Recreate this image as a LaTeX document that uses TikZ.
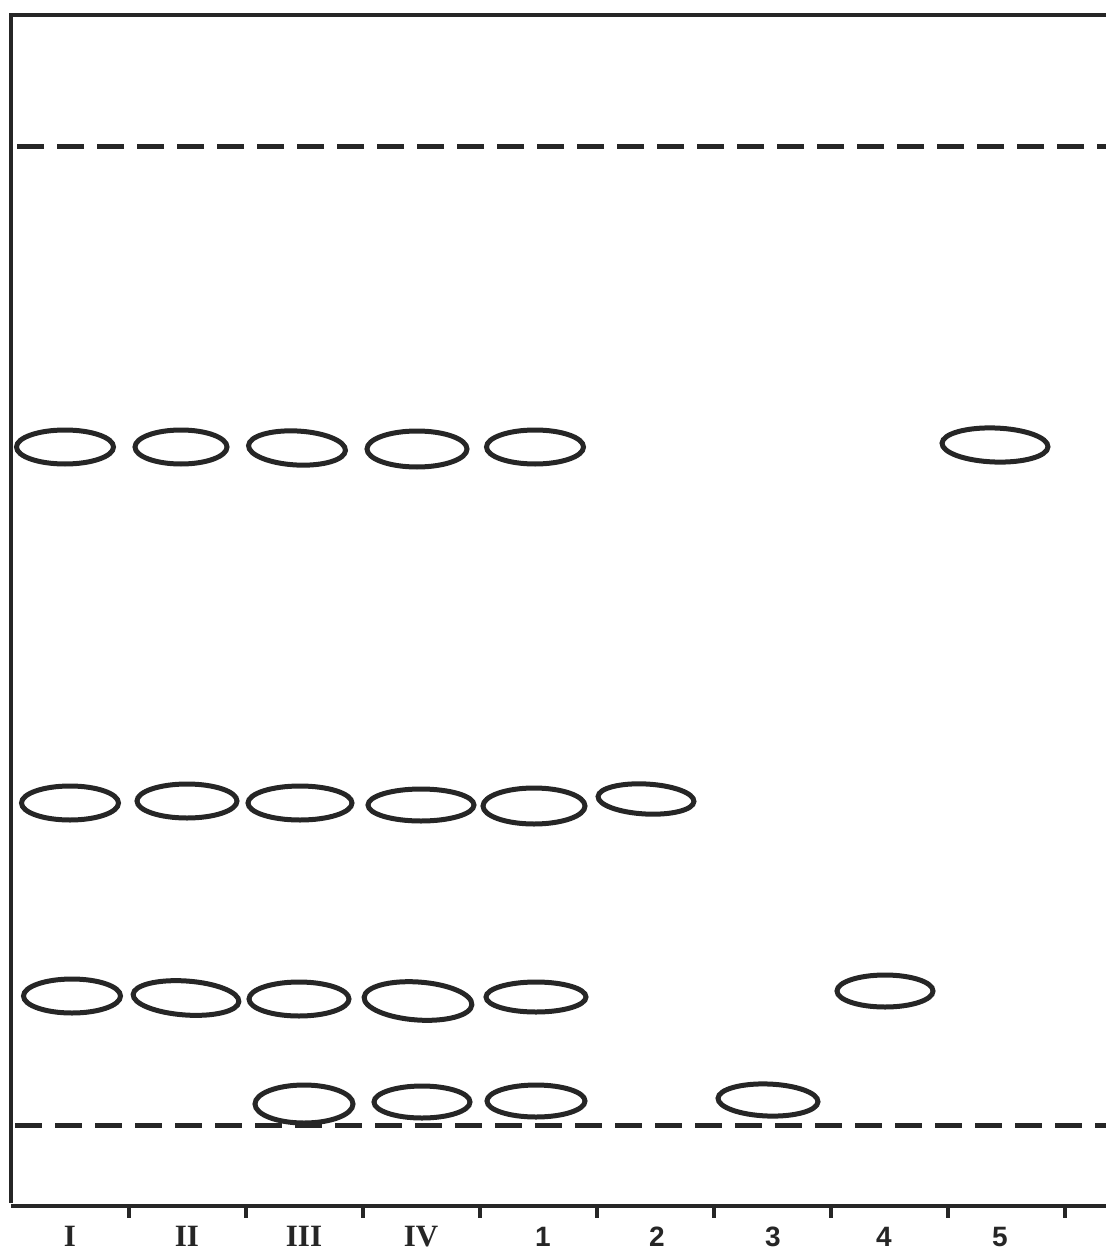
\documentclass[tikz,border=0pt]{standalone}
\usepackage{fontspec}
\setmainfont{Liberation Sans}
\newfontfamily\romfont{Liberation Serif}
\usetikzlibrary{shapes.geometric}
\begin{document}
\begin{tikzpicture}[x=1pt,y=-1pt,
  spot/.style={draw=black!85, ellipse, line width=5pt, minimum width=97pt, minimum height=34pt, inner sep=0pt},
  frameline/.style={draw=black!85, line width=4.5pt},
  tickline/.style={draw=black!85, line width=4pt},
  startline/.style={draw=black!85, line width=5pt, dash pattern=on 27pt off 13pt},
  lanelab/.style={font=\fontsize{28}{30}\selectfont\bfseries, text=black!85, anchor=base},
  romlab/.style={font=\romfont\fontsize{31}{32}\selectfont\bfseries, text=black!85, anchor=base}]
\useasboundingbox (0,0) rectangle (1106,1252);
% frame
\coordinate (tl) at (11,15);
\coordinate (tr) at (1106,15);
\coordinate (bl) at (11,1206);
\coordinate (br) at (1106,1206);
\draw[frameline] (tr) -- (tl) -- ([yshift=3pt]bl) ;
\draw[frameline] (bl) -- (br);
% ticks
\foreach \k in {0,...,8} {
  \coordinate (t\k) at ({129+117*\k},1206);
  \draw[tickline] (t\k) -- ++(0,12);
}
% dashed lines
\coordinate (fa) at (17,147);
\coordinate (fb) at (1106,147);
\coordinate (sa) at (15,1125);
\coordinate (sb) at (1106,1125);
\draw[startline] (fa) -- (fb);
\draw[startline] (sa) -- (sb);
% row 1
\node[spot] (r1a) at (65,447) {};
\node[spot, minimum width=92pt] (r1b) at (181,447) {};
\node[spot, rotate=-3] (r1c) at (297,448) {};
\node[spot, minimum width=100pt, minimum height=36pt] (r1d) at (417,449) {};
\node[spot] (r1e) at (535,447) {};
\node[spot, minimum width=106pt, rotate=-2] (r1f) at (995,445) {};
% row 2
\node[spot] (r2a) at (70,803) {};
\node[spot, minimum width=100pt] (r2b) at (187,801) {};
\node[spot, minimum width=104pt] (r2c) at (300,803) {};
\node[spot, minimum width=106pt, minimum height=32pt] (r2d) at (421,805) {};
\node[spot, minimum width=102pt, minimum height=36pt] (r2e) at (534,806) {};
\node[spot, minimum width=96pt, minimum height=30pt, rotate=-3] (r2f) at (646,799) {};
% row 3
\node[spot] (r3a) at (72,996) {};
\node[spot, minimum width=106pt, rotate=-4] (r3b) at (186,998) {};
\node[spot, minimum width=100pt] (r3c) at (299,999) {};
\node[spot, minimum width=108pt, minimum height=38pt, rotate=-4] (r3d) at (418,1001) {};
\node[spot, minimum width=100pt, minimum height=30pt] (r3e) at (536,997) {};
\node[spot, minimum width=96pt, minimum height=32pt] (r3f) at (885,991) {};
% row 4
\node[spot, minimum width=98pt, minimum height=38pt] (r4a) at (304,1104) {};
\node[spot, minimum width=96pt, minimum height=32pt] (r4b) at (422,1102) {};
\node[spot, minimum width=98pt, minimum height=32pt] (r4c) at (536,1101) {};
\node[spot, minimum width=100pt, minimum height=32pt, rotate=-2] (r4d) at (768,1100) {};
% labels
\node[romlab] (lI) at (70,1246) {I};
\node[romlab] (lII) at (187,1246) {II};
\node[romlab] (lIII) at (304,1246) {III};
\node[romlab] (lIV) at (421,1246) {IV};
\node[lanelab] (l1) at (543,1246) {1};
\node[lanelab] (l2) at (657,1246) {2};
\node[lanelab] (l3) at (773,1246) {3};
\node[lanelab] (l4) at (884,1246) {4};
\node[lanelab] (l5) at (1000,1246) {5};
\end{tikzpicture}
\end{document}
